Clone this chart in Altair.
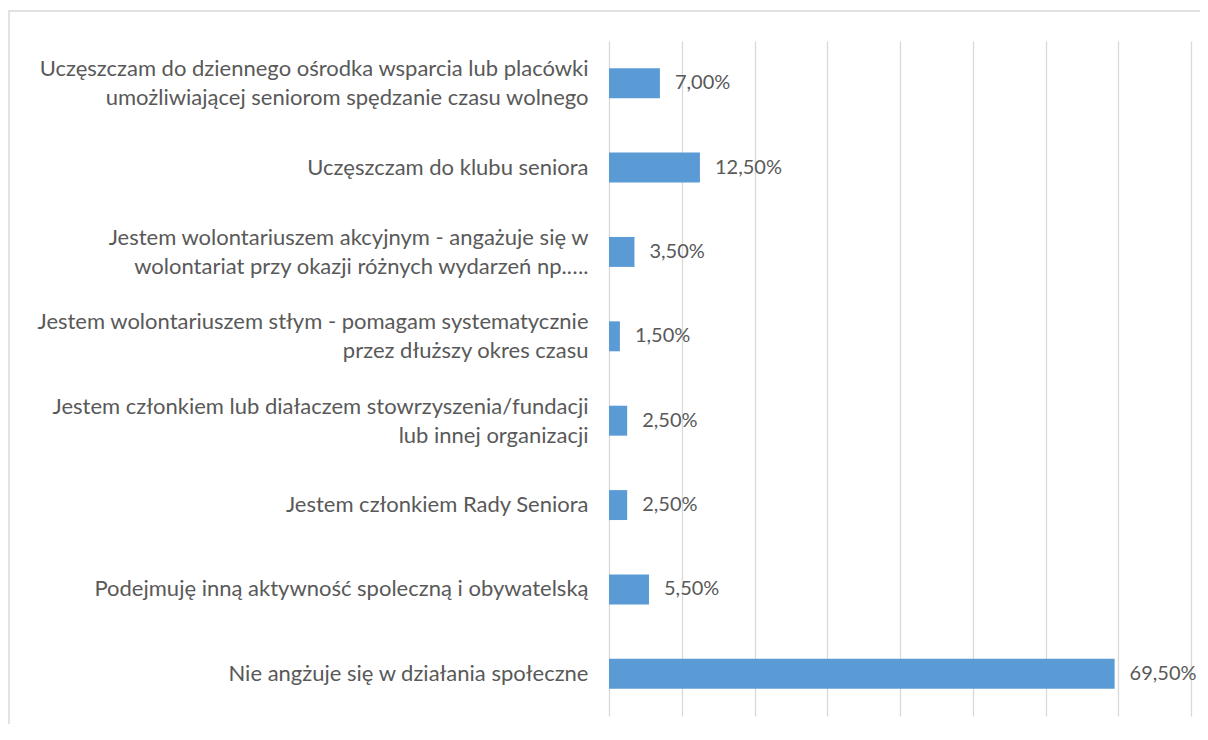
import altair as alt
import pandas as pd

categories = [
    "Uczęszczam do dziennego ośrodka wsparcia lub placówki|umożliwiającej seniorom spędzanie czasu wolnego",
    "Uczęszczam do klubu seniora",
    "Jestem wolontariuszem akcyjnym - angażuje się w|wolontariat przy okazji różnych wydarzeń np.….",
    "Jestem wolontariuszem stłym - pomagam systematycznie|przez dłuższy okres czasu",
    "Jestem członkiem lub diałaczem stowrzyszenia/fundacji|lub innej organizacji",
    "Jestem członkiem Rady Seniora",
    "Podejmuję inną aktywność spoleczną i obywatelską",
    "Nie angżuje się w działania społeczne",
]
values = [7.0, 12.5, 3.5, 1.5, 2.5, 2.5, 5.5, 69.5]

df = pd.DataFrame({"cat": categories, "val": values})
df["lbl"] = [f"{v:.2f}".replace(".", ",") + "%" for v in values]

FONT = "Lato"
TXT = "#595959"
FS = 22

base = alt.Chart(df)

x_enc = alt.X("val:Q", scale=alt.Scale(domain=[0, 80], nice=False),
              axis=alt.Axis(values=[0, 10, 20, 30, 40, 50, 60, 70, 80], labels=False, ticks=False,
                            domain=False, grid=True, gridColor="#d9d9d9", gridWidth=1.3, title=None))
y_enc = alt.Y("cat:N", sort=categories, scale=alt.Scale(paddingInner=0.645, paddingOuter=0.3225),
              axis=alt.Axis(title=None, ticks=False, domain=False, labelPadding=21,
                            labelExpr="split(datum.label, '|')", labelFont=FONT, labelFontSize=FS,
                            labelColor=TXT, labelLimit=600, labelLineHeight=29,
                            labelOffset=alt.ExprRef(expr="indexof(datum.value, '|') >= 0 ? -14 : 0")))

bars = base.mark_bar(color="#5b9bd5").encode(x=x_enc, y=y_enc)
texts = base.mark_text(align="left", baseline="middle", dx=15, font=FONT, fontSize=20, color=TXT).encode(
    x="val:Q", y=alt.Y("cat:N", sort=categories), text="lbl:N")

border = alt.Chart(pd.DataFrame({"a": [0]})).mark_rect(
    fill=None, stroke="#d9d9d9", strokeWidth=1.5, clip=False
).encode(x=alt.value(-600), x2=alt.value(700), y=alt.value(-30), y2=alt.value(800))

chart = alt.layer(border, bars, texts).properties(
    width=582, height=675,
    padding={"left": 601, "top": 33, "right": 9, "bottom": 8},
    autosize=alt.AutoSizeParams(type="none"),
).configure_view(stroke=None)

chart.save("out.html", embed_options={"renderer": "svg", "actions": False})
